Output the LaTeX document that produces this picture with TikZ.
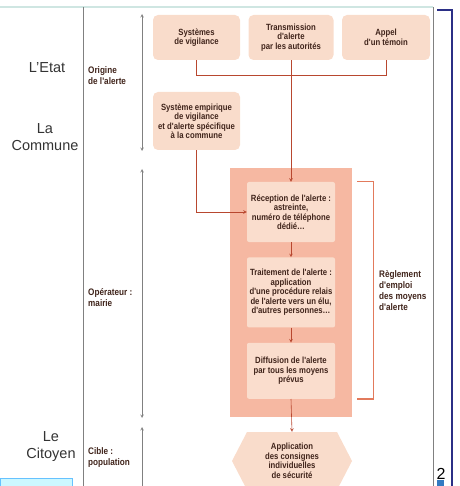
\documentclass[tikz,border=0pt]{standalone}
\usepackage{fontspec}
\setmainfont{Liberation Sans}
\newfontfamily\condfont{Liberation Sans}[FakeStretch=0.86]
\usetikzlibrary{arrows,positioning}
\definecolor{peche}{HTML}{F9DCCB}
\definecolor{peclair}{HTML}{FADDCD}
\definecolor{saumon}{HTML}{F6B8A2}
\definecolor{brique}{HTML}{B8472F}
\definecolor{accolade}{HTML}{E27A5C}
\definecolor{brun}{HTML}{40241B}
\definecolor{marine}{HTML}{2B2F86}
\definecolor{sarcelle}{HTML}{CFE6E2}

\begin{document}
\begin{tikzpicture}[x=1pt,y=-1pt,>=stealth]
\tikzstyle{box}=[rectangle,rounded corners=5pt,fill=peche,text=brun,
align=center,inner sep=1pt,
font=\condfont\bfseries\fontsize{9}{9.5}\selectfont]
\tikzstyle{inbox}=[box,fill=peclair,rounded corners=2pt,
minimum width=88pt,node distance=15pt]
\tikzstyle{etiq}=[align=left,text=brun,inner sep=0pt,
font=\condfont\bfseries\fontsize{9.5}{11}\selectfont]
\tikzstyle{niveau}=[align=center,text=black!80,inner sep=0pt,
font=\fontsize{14.5}{17}\selectfont]
\tikzstyle{lien}=[draw=brique,line width=0.6pt]
\tikzstyle{fleche}=[draw=gray,line width=0.6pt,<->]
\useasboundingbox (0,0) rectangle (459,486);

% cadre
\draw[sarcelle,line width=1.5pt] (0,7) -- (433,7);
\draw[gray,line width=0.8pt] (83,7) -- (83,486);
\draw[gray,line width=0.8pt] (433,7) -- (433,486);
\draw[marine,line width=2pt] (437,10) -- (452,10) -- (452,486);
\fill[blue!50!cyan!70!black!80] (437,480) rectangle (444,486);
\node[font=\fontsize{16}{16}\selectfont,inner sep=0pt] (page) at (441,474) {2};
\draw[fill=blue!15!cyan!20,draw=blue!40!cyan!60] (0,478) rectangle (72,490);

% niveaux
\node[niveau] (etat) at (47,68) {L'Etat};
\node[niveau] (commune) at (45,137) {La\\Commune};
\node[niveau] (citoyen) at (51,447) {Le\\Citoyen};

\node[etiq,anchor=west] (origine) at (88,76) {Origine\\de l'alerte};
\node[etiq,anchor=west] (operateur) at (88,298) {Op\'erateur :\\mairie};
\node[etiq,anchor=west] (cible) at (88,458) {Cible :\\population};

\coordinate (o1) at (142,14);
\coordinate (o2) at (142,151);
\coordinate (o3) at (142,169);
\coordinate (o4) at (142,418);
\coordinate (o5) at (142,427);
\coordinate (o6) at (142,500);
\draw[fleche] (o1) -- (o2);
\draw[fleche] (o3) -- (o4);
\draw[fleche] (o5) -- (o6);

% origine de l'alerte
\node[box,minimum width=87pt,minimum height=45pt] at (196.5,37.5) (sys) {Syst\`emes\\de vigilance};
\node[box,minimum width=85pt,minimum height=45pt] at (291,37.5) (trans) {Transmission\\d'alerte\\par les autorit\'es};
\node[box,minimum width=88pt,minimum height=45pt] at (386,37.5) (appel) {Appel\\d'un t\'emoin};
\node[box,minimum width=87pt,minimum height=58pt] at (196.5,121) (emp) {Syst\`eme empirique\\de vigilance\\et d'alerte sp\'ecifique\\\`a la commune};

% operateur
\node[fill=saumon,minimum width=122pt,minimum height=249pt,inner sep=0pt] at (291,292.5) (bloc) {};
\node[inbox,minimum height=60pt] at (291,212) (recep) {R\'eception de l'alerte :\\astreinte,\\num\'ero de t\'el\'ephone\\d\'edi\'e\dots};
\node[inbox,minimum height=70pt,below=of recep] (trait) {Traitement de l'alerte :\\application\\d'une proc\'edure relais\\de l'alerte vers un \'elu,\\d'autres personnes\dots};
\node[inbox,minimum height=56pt,below=of trait] (diff) {Diffusion de l'alerte\\par tous les moyens\\pr\'evus};

% cible
\fill[peche] (247,432) -- (337,432) -- (352,461) -- (337,490) -- (247,490) -- (232,461) -- cycle;
\node[box,fill=none,minimum width=90pt,minimum height=58pt] at (292,461) (appli) {Application\\des consignes\\individuelles\\de s\'ecurit\'e};

\draw[lien] (sys.south) -- ++(0,15) -| (appel.south);
\draw[lien,->] (trans.south) -- (recep.north);
\draw[lien,->] (emp.south) |- (recep.west);
\draw[lien,->] (recep.south) -- (trait.north);
\draw[lien,->] (trait.south) -- (diff.north);
\draw[lien,->] (diff.south) -- (appli.north);

\draw[accolade,line width=1.4pt] ([xshift=5pt]bloc.east |- recep.north) -- ++(16,0) |- ([xshift=5pt]bloc.east |- diff.south);
\node[etiq,anchor=west] (regl) at (379,291) {R\`eglement\\d'emploi\\des moyens\\d'alerte};

\end{tikzpicture}
\end{document}
